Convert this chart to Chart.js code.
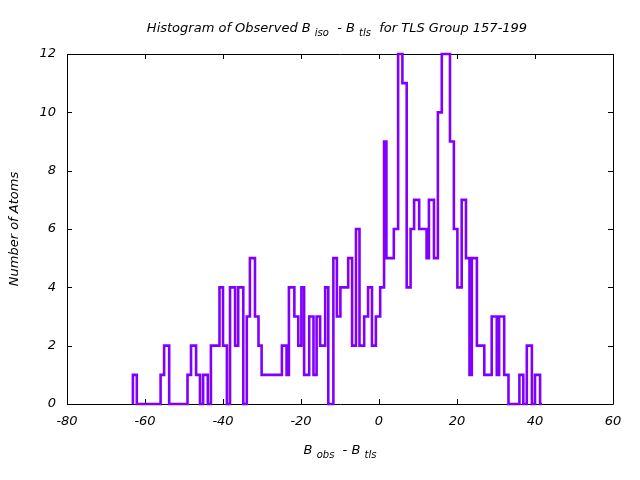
<!DOCTYPE html>
<html>
<head>
<meta charset="utf-8">
<script src="https://cdn.jsdelivr.net/npm/chart.js@4.4.1/dist/chart.umd.min.js"></script>
<style>
html,body{margin:0;padding:0;background:#fff;}
canvas{display:block;}
</style>
</head>
<body>
<canvas id="c" width="640" height="480"></canvas>
<script>
// Step edges (left edge of each step, in B units) and the atom count on each step
const stepEdges = [-63.1,-62.1,-56.0,-55.1,-53.8,-49.1,-48.2,-46.9,-45.9,-45.1,-43.9,-43.1,-40.9,-40.0,-39.0,-38.2,-36.9,-36.1,-34.8,-33.9,-33.1,-31.8,-30.9,-30.1,-24.9,-23.7,-23.1,-21.7,-20.7,-19.9,-19.2,-17.9,-16.8,-16.0,-15.1,-13.8,-13.0,-11.7,-10.8,-9.9,-7.9,-6.9,-5.9,-5.0,-3.8,-2.8,-1.8,-0.8,0.3,1.3,1.9,3.8,4.9,6.0,7.1,8.1,9.0,10.3,12.2,12.8,14.1,15.1,16.1,18.2,19.2,20.1,21.2,22.3,23.2,23.8,25.1,27.0,28.9,30.2,30.8,32.1,33.2,36.0,37.0,37.9,39.2,40.0,41.3];
const counts    = [1,0,1,2,0,1,2,1,0,1,0,2,4,2,0,4,2,4,0,3,5,3,2,1,2,1,4,3,2,4,1,3,1,3,2,4,0,5,3,4,5,2,6,2,3,4,2,3,4,9,5,6,12,11,4,6,7,6,5,7,5,10,12,9,6,4,7,5,1,5,2,1,3,1,3,1,0,1,0,2,0,1,0];
const lastEdge = 41.8;
const xTicks = [-80,-60,-40,-20,0,20,40,60];
const yTicks = [0,2,4,6,8,10,12];

// points at the left edge of each step; the level is held until the next edge
const pts = [{x: stepEdges[0], y: 0}];
for (let i = 0; i < stepEdges.length; i++) pts.push({x: stepEdges[i], y: counts[i]});
pts.push({x: lastEdge, y: 0});

const FONT = '"DejaVu Sans", sans-serif';

function drawRich(ctx, parts, x, y) {
  let total = 0;
  for (const p of parts) {
    ctx.font = 'italic ' + (p.sub ? 10 : 13) + 'px ' + FONT;
    p.w = ctx.measureText(p.t).width;
    total += p.w;
  }
  let cx = x - total / 2;
  ctx.textAlign = 'left';
  ctx.textBaseline = 'alphabetic';
  ctx.fillStyle = '#000';
  for (const p of parts) {
    ctx.font = 'italic ' + (p.sub ? 10 : 13) + 'px ' + FONT;
    ctx.fillText(p.t, cx, y + (p.sub ? 4 : 0));
    cx += p.w;
  }
}

const framePlugin = {
  id: 'frame',
  beforeDatasetsDraw(chart) {
    const ctx = chart.ctx, a = chart.chartArea;
    const xs = chart.scales.x, ys = chart.scales.y;
    ctx.save();
    ctx.strokeStyle = '#000';
    ctx.lineWidth = 1;
    ctx.beginPath();
    ctx.rect(Math.round(a.left)+0.5, Math.round(a.top)+0.5, Math.round(a.right-a.left), Math.round(a.bottom-a.top));
    const L = 5;
    for (const v of xTicks) {
      const px = Math.round(xs.getPixelForValue(v)) + 0.5;
      ctx.moveTo(px, a.bottom); ctx.lineTo(px, a.bottom - L);
      ctx.moveTo(px, a.top); ctx.lineTo(px, a.top + L);
    }
    for (const v of yTicks) {
      const py = Math.round(ys.getPixelForValue(v)) + 0.5;
      ctx.moveTo(a.left, py); ctx.lineTo(a.left + L, py);
      ctx.moveTo(a.right, py); ctx.lineTo(a.right - L, py);
    }
    ctx.stroke();
    ctx.restore();
  },
  afterDraw(chart) {
    const ctx = chart.ctx, a = chart.chartArea;
    ctx.save();
    drawRich(ctx, [
      {t: 'Histogram of Observed B '}, {t: 'iso', sub: true}, {t: '  - B '}, {t: 'tls', sub: true},
      {t: '  for TLS Group 157-199'}
    ], 337, 32);
    drawRich(ctx, [
      {t: 'B '}, {t: 'obs', sub: true}, {t: '  - B '}, {t: 'tls', sub: true}
    ], (a.left + a.right) / 2, 454);
    ctx.translate(15, (a.top + a.bottom) / 2);
    ctx.rotate(-Math.PI / 2);
    ctx.font = 'italic 13px ' + FONT;
    ctx.textAlign = 'center';
    ctx.textBaseline = 'middle';
    ctx.fillStyle = '#000';
    ctx.fillText('Number of Atoms', 0, 0);
    ctx.restore();
  }
};

new Chart(document.getElementById('c'), {
  type: 'line',
  data: {
    datasets: [{
      data: pts,
      borderColor: '#8000ff',
      borderWidth: 2.6,
      pointRadius: 0,
      fill: false,
      stepped: 'before',
      tension: 0,
      borderJoinStyle: 'miter'
    }]
  },
  options: {
    responsive: false,
    animation: false,
    clip: false,
    layout: {padding: {top: 54, right: 27, left: 0, bottom: 0}},
    plugins: {legend: {display: false}, tooltip: {enabled: false}, title: {display: false}},
    scales: {
      x: {
        type: 'linear', min: -80, max: 60,
        afterBuildTicks(s) { s.ticks = xTicks.map(v => ({value: v})); },
        afterFit(s) { s.height = 76; },
        grid: {display: false, drawTicks: false},
        border: {display: false},
        ticks: {color: '#000', padding: 10, maxRotation: 0, font: {family: FONT, size: 13, style: 'italic'}}
      },
      y: {
        type: 'linear', min: 0, max: 12,
        afterBuildTicks(s) { s.ticks = yTicks.map(v => ({value: v})); },
        afterFit(s) { s.width = 67; },
        grid: {display: false, drawTicks: false},
        border: {display: false},
        ticks: {color: '#000', padding: 11, font: {family: FONT, size: 13, style: 'italic'}}
      }
    }
  },
  plugins: [framePlugin]
});
</script>
</body>
</html>
